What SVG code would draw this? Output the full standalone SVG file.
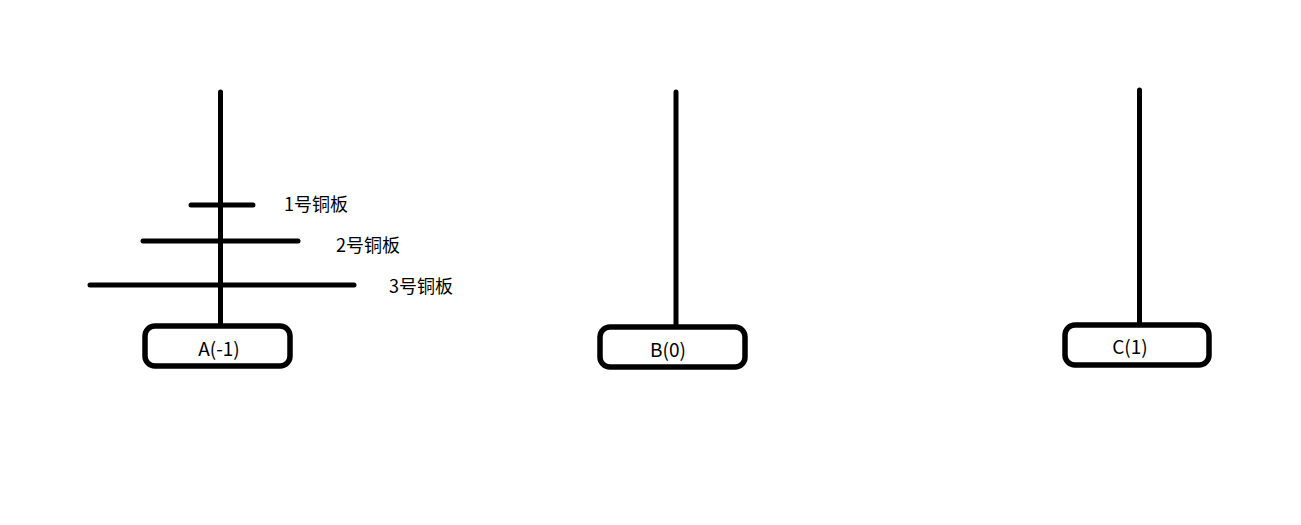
<svg xmlns="http://www.w3.org/2000/svg" width="1301" height="525" viewBox="0 0 1301 525">
<style>
.pole{stroke:#000;stroke-width:5;stroke-linecap:round;fill:none}
.disk{stroke:#000;stroke-width:5;stroke-linecap:round;fill:none}
.base{stroke:#000;stroke-width:5.5;fill:#fff}
.lbl{font-family:"Noto Sans CJK SC","Noto Sans",sans-serif;font-size:18px;fill:#000}
.bl{font-size:19px}
</style>
<rect width="1301" height="525" fill="#fff"/>
<g id="connectors">
<line class="pole" x1="220.5" y1="92" x2="220.5" y2="324"/>
<line class="pole" x1="676" y1="92" x2="676" y2="325"/>
<line class="pole" x1="1139.5" y1="90" x2="1139.5" y2="323"/>
</g>
<g id="disk1"><line class="disk" x1="191" y1="205" x2="253" y2="205"/><text class="lbl" x="284" y="211">1号铜板</text></g>
<g id="disk2"><line class="disk" x1="143" y1="241" x2="298" y2="241"/><text class="lbl" x="336" y="252">2号铜板</text></g>
<g id="disk3"><line class="disk" x1="90" y1="285" x2="354" y2="285"/><text class="lbl" x="389" y="293">3号铜板</text></g>
<g id="baseA"><rect class="base" x="145" y="326" width="145" height="40" rx="10"/><text class="lbl bl" x="219" y="356" text-anchor="middle">A(-1)</text></g>
<g id="baseB"><rect class="base" x="600" y="327" width="145" height="40" rx="10"/><text class="lbl bl" x="668" y="357" text-anchor="middle">B(0)</text></g>
<g id="baseC"><rect class="base" x="1065" y="325" width="144" height="40" rx="10"/><text class="lbl bl" x="1130" y="354" text-anchor="middle">C(1)</text></g>
</svg>
